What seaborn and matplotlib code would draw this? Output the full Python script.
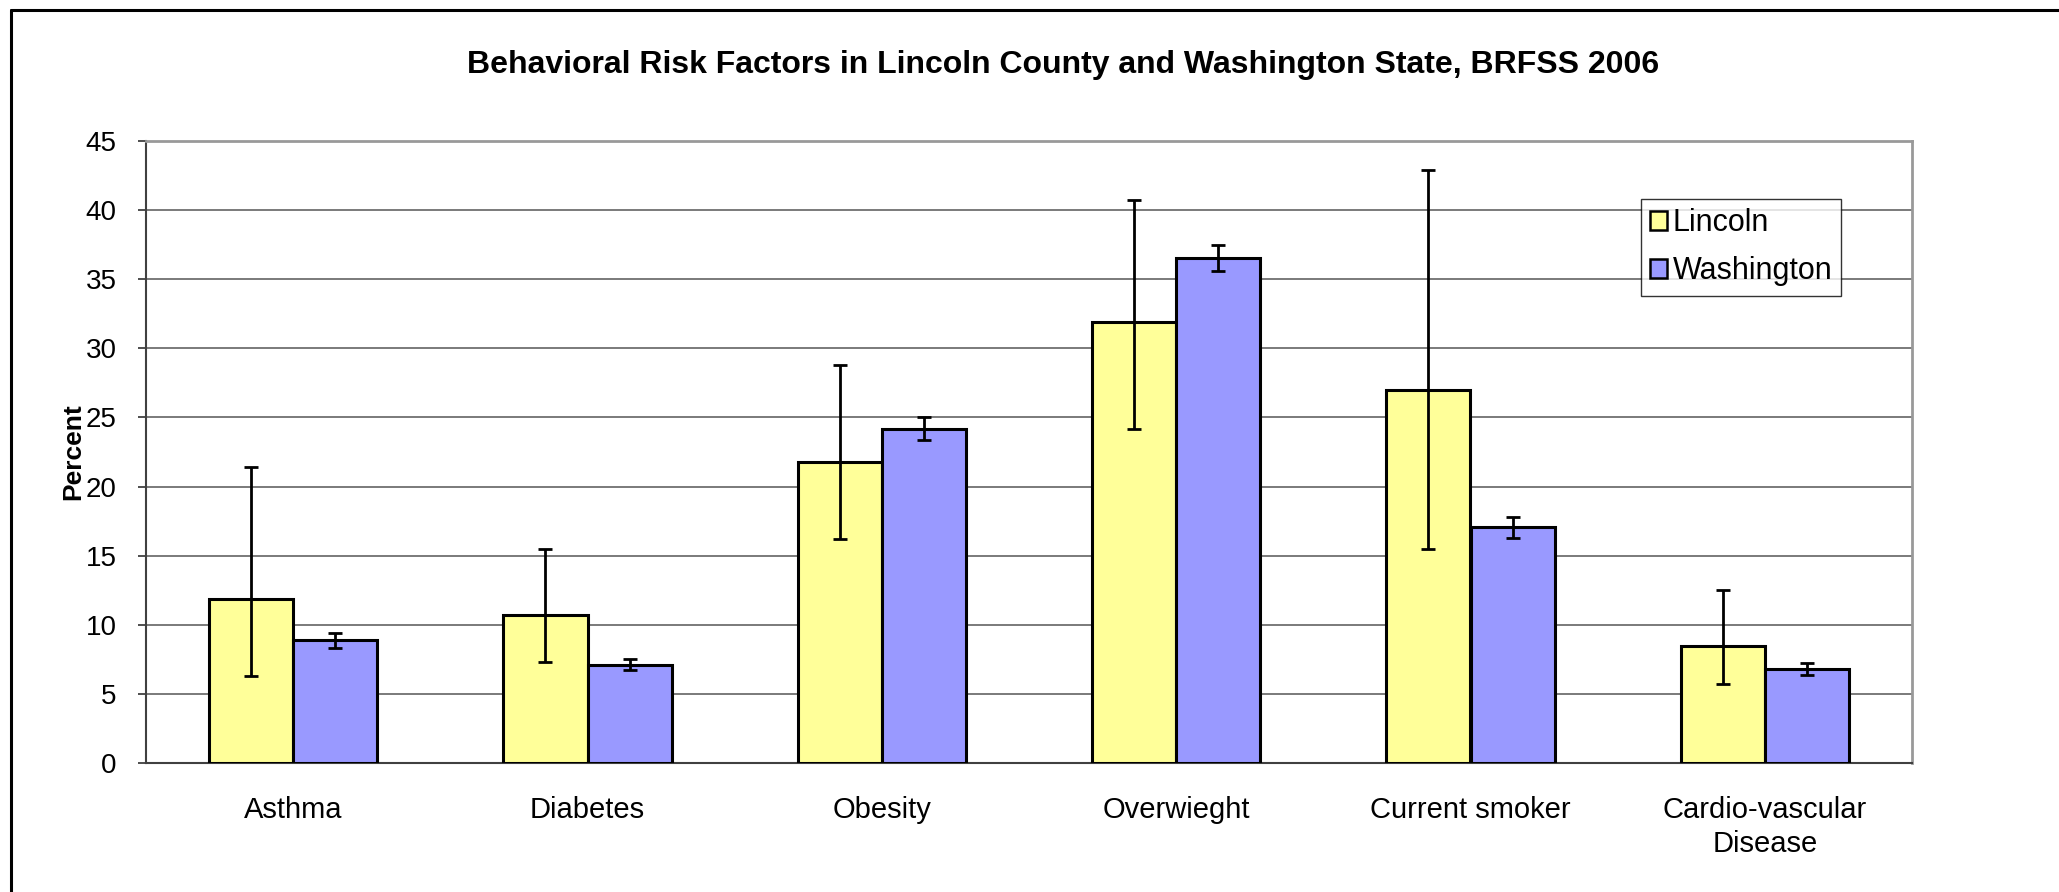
import seaborn as sns
import matplotlib.pyplot as plt
import pandas as pd
import numpy as np
from matplotlib.lines import Line2D

# values
categories = ["Asthma", "Diabetes", "Obesity", "Overwieght", "Current smoker",
              "Cardio-vascular\nDisease"]
series = ["Lincoln", "Washington"]

lincoln = [11.9, 10.7, 21.8, 31.9, 27.0, 8.5]
lincoln_low = [6.3, 7.3, 16.2, 24.2, 15.5, 5.7]
lincoln_high = [21.4, 15.5, 28.8, 40.7, 42.9, 12.5]

washington = [8.9, 7.1, 24.2, 36.5, 17.1, 6.8]
washington_low = [8.3, 6.7, 23.4, 35.6, 16.3, 6.4]
washington_high = [9.4, 7.5, 25.0, 37.5, 17.8, 7.2]

df = pd.DataFrame({
    "category": categories * 2,
    "area": [series[0]] * len(categories) + [series[1]] * len(categories),
    "value": lincoln + washington,
    "low": lincoln_low + washington_low,
    "high": lincoln_high + washington_high,
})

sns.set_theme(style="white")
plt.rcParams["font.family"] = ["Liberation Sans", "DejaVu Sans"]
plt.rcParams["text.color"] = "black"
plt.rcParams["xtick.color"] = "black"
plt.rcParams["ytick.color"] = "black"
plt.rcParams["axes.labelcolor"] = "black"

fig = plt.figure(figsize=(20.59, 8.92), dpi=100)
ax = fig.add_axes([146 / 2059, 1 - 763 / 892, (1912 - 146) / 2059, (763 - 141) / 892])

palette = {"Lincoln": "#FFFF99", "Washington": "#9999FF"}
sns.barplot(data=df, x="category", y="value", hue="area", order=categories,
            hue_order=series, palette=palette, width=0.571, gap=0,
            edgecolor="black", linewidth=2.2, saturation=1, errorbar=None,
            ax=ax, zorder=3)

# error bars at the centre of each bar
bars = [p for p in ax.patches if p.get_height() > 0]
for p in bars:
    cx = p.get_x() + p.get_width() / 2
    h = p.get_height()
    row = df[np.isclose(df["value"], h)].iloc[0]
    ax.errorbar(cx, h, yerr=[[h - row["low"]], [row["high"] - h]], fmt="none",
                ecolor="black", elinewidth=2.0, capsize=5, capthick=2.0, zorder=4)

ax.set_ylim(0, 45)
ax.set_xlim(-0.5, len(categories) - 0.5)
ax.set_yticks(np.arange(0, 46, 5))
ax.yaxis.grid(True, color="#707070", linewidth=1.3, zorder=0)
ax.set_axisbelow(True)

ax.set_xticks(np.arange(-0.5, len(categories), 1.0), minor=True)
ax.tick_params(axis="x", which="major", length=0, pad=24, labelsize=21)
ax.tick_params(axis="x", which="minor", length=6, width=1.3, color="#404040", direction="out")
ax.tick_params(axis="y", length=6, width=1.3, color="#404040", labelcolor="black",
               direction="out", pad=15, labelsize=20, left=True)
for lbl in ax.get_xticklabels():
    lbl.set_linespacing(1.25)

for side in ["left", "bottom"]:
    ax.spines[side].set_color("#404040")
    ax.spines[side].set_linewidth(1.5)
for side in ["top", "right"]:
    ax.spines[side].set_visible(True)
    ax.spines[side].set_color("#999999")
    ax.spines[side].set_linewidth(2.0)

ax.set_xlabel("")
ax.set_ylabel("Percent", fontsize=19, fontweight="bold")
ax.yaxis.set_label_coords(-0.0345, 0.5)

leg = ax.legend(loc="upper left", bbox_to_anchor=(0.8466, 0.9068), borderaxespad=0,
                fontsize=22, frameon=True, fancybox=False, handlelength=0.55,
                handleheight=0.55, handletextpad=0.18, labelspacing=0.6, borderpad=0.3)
leg.get_frame().set_edgecolor("black")
leg.get_frame().set_linewidth(1.0)
for h in leg.legend_handles:
    h.set_edgecolor("black")
    h.set_linewidth(1.8)

fig.text(1063 / 2059, 1 - 65 / 892,
         "Behavioral Risk Factors in Lincoln County and Washington State, BRFSS 2006",
         ha="center", va="center", fontsize=23, fontweight="bold", color="black")

# chart area border (only the top and left edges fall inside the picture)
fig.add_artist(Line2D([11 / 2059, 11 / 2059], [0, 1 - 10 / 892], color="black", linewidth=2.2))
fig.add_artist(Line2D([11 / 2059, 1], [1 - 10 / 892, 1 - 10 / 892], color="black", linewidth=2.2))

plt.savefig("out.png", dpi=100)
